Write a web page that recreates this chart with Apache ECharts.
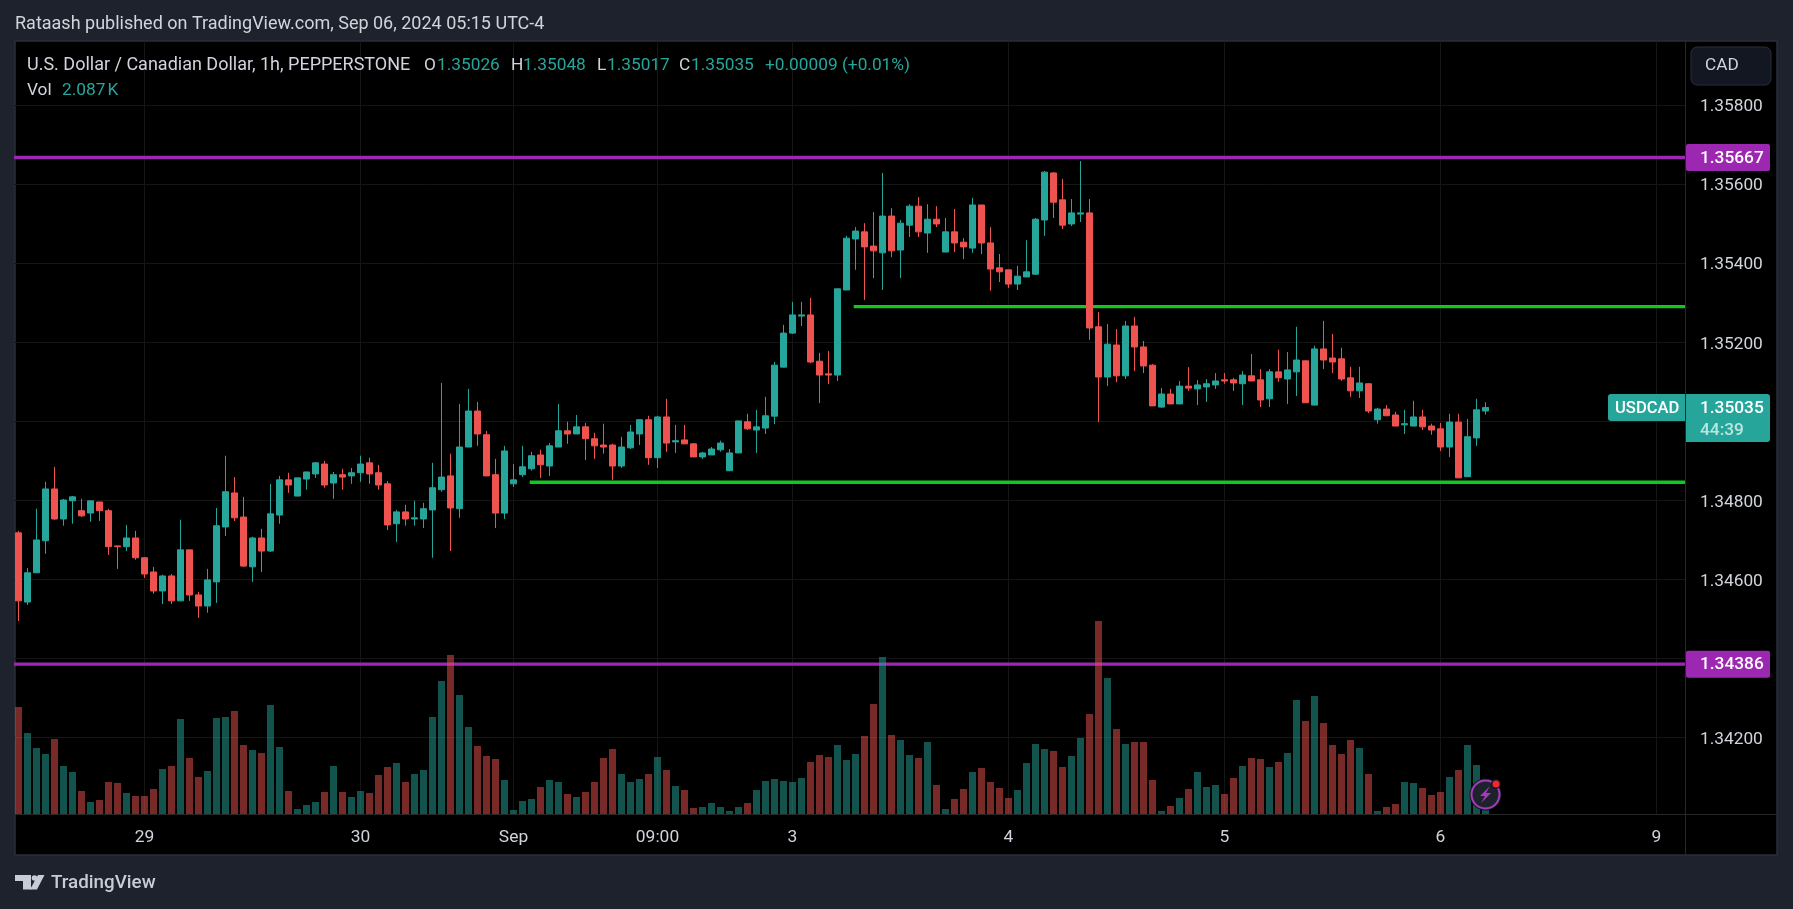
<!DOCTYPE html>
<html lang="en">
<head>
  <meta charset="UTF-8">
  <title>USDCAD 1h</title>
  <script src="https://cdn.jsdelivr.net/npm/echarts@6/dist/echarts.min.js"></script>
  <style>
    html, body { margin: 0; padding: 0; background: #1e222d; }
    #chart { width: 1793px; height: 909px; }
  </style>
</head>
<body>
  <div id="chart"></div>
  <script>
    // hourly candles (index 0 = leftmost bar)
    const opens = [
      1.34718,1.34543,1.34617,1.34698,1.34829,1.34753,1.34799,1.34774,1.34768,1.34796,
      1.34774,1.34685,1.34683,1.34705,1.34655,1.34619,1.34571,1.34609,1.34546,1.34675,
      1.34561,1.34533,1.34594,1.34733,1.34819,1.34758,1.34632,1.34705,1.34672,1.34763,
      1.34852,1.34811,1.34854,1.34867,1.34892,1.34844,1.34865,1.34862,1.34870,1.34895,
      1.34870,1.34842,1.34741,1.34771,1.34753,1.34753,1.34776,1.34827,1.34862,1.34779,
      1.34935,1.35026,1.34966,1.34865,1.34768,1.34842,1.34865,1.34880,1.34915,1.34887,
      1.34935,1.34976,1.34968,1.34986,1.34956,1.34940,1.34940,1.34887,1.34933,1.34968,
      1.35004,1.34908,1.35011,1.34948,1.34953,1.34943,1.34910,1.34915,1.34928,1.34875,
      1.34920,1.34999,1.34978,1.34983,1.35013,1.35137,1.35223,1.35266,1.35269,1.35152,
      1.35120,1.35117,1.35332,1.35461,1.35479,1.35443,1.35426,1.35519,1.35433,1.35496,
      1.35544,1.35476,1.35511,1.35428,1.35479,1.35453,1.35438,1.35547,1.35451,1.35388,
      1.35383,1.35347,1.35365,1.35372,1.35509,1.35628,1.35560,1.35499,1.35524,1.35527,
      1.35239,1.35112,1.35193,1.35115,1.35241,1.35188,1.35142,1.35036,1.35069,1.35044,
      1.35089,1.35082,1.35087,1.35092,1.35105,1.35105,1.35095,1.35115,1.35105,1.35057,
      1.35125,1.35107,1.35125,1.35153,1.35041,1.35183,1.35160,1.35158,1.35110,1.35077,
      1.35095,1.35004,1.35031,1.35016,1.34991,1.34988,1.35011,1.34988,1.34981,1.34935,
      1.34998,1.34860,1.34958,1.35026
    ];
    const closes = [
      1.34546,1.34617,1.34700,1.34829,1.34753,1.34801,1.34809,1.34761,1.34799,1.34774,
      1.34683,1.34683,1.34705,1.34655,1.34614,1.34571,1.34609,1.34546,1.34675,1.34561,
      1.34533,1.34599,1.34736,1.34822,1.34756,1.34634,1.34705,1.34672,1.34766,1.34852,
      1.34839,1.34857,1.34872,1.34895,1.34839,1.34865,1.34859,1.34870,1.34892,1.34867,
      1.34839,1.34738,1.34771,1.34753,1.34756,1.34779,1.34832,1.34859,1.34781,1.34935,
      1.35026,1.34968,1.34862,1.34768,1.34925,1.34852,1.34885,1.34913,1.34890,1.34938,
      1.34976,1.34968,1.34986,1.34956,1.34938,1.34935,1.34887,1.34935,1.34973,1.35004,
      1.34908,1.35011,1.34945,1.34951,1.34943,1.34910,1.34920,1.34930,1.34945,1.34920,
      1.35001,1.34981,1.34986,1.35014,1.35142,1.35223,1.35269,1.35269,1.35150,1.35117,
      1.35117,1.35335,1.35463,1.35481,1.35441,1.35431,1.35519,1.35431,1.35501,1.35544,
      1.35479,1.35511,1.35499,1.35479,1.35451,1.35441,1.35547,1.35451,1.35385,1.35378,
      1.35347,1.35367,1.35378,1.35511,1.35630,1.35554,1.35496,1.35527,1.35527,1.35236,
      1.35112,1.35195,1.35115,1.35241,1.35188,1.35140,1.35039,1.35069,1.35044,1.35089,
      1.35084,1.35092,1.35095,1.35102,1.35102,1.35097,1.35117,1.35102,1.35054,1.35125,
      1.35110,1.35130,1.35155,1.35047,1.35183,1.35155,1.35150,1.35107,1.35077,1.35097,
      1.35026,1.35031,1.35014,1.34988,1.34994,1.35011,1.34986,1.34978,1.34935,1.34998,
      1.34857,1.34961,1.35029,1.35035
    ];
    const lows = [
      1.34495,1.34536,1.34617,1.34665,1.34751,1.34736,1.34741,1.34758,1.34746,1.34748,
      1.34662,1.34627,1.34672,1.34650,1.34604,1.34564,1.34538,1.34538,1.34546,1.34546,
      1.34503,1.34516,1.34541,1.34710,1.34748,1.34632,1.34594,1.34619,1.34670,1.34741,
      1.34819,1.34811,1.34827,1.34857,1.34832,1.34804,1.34827,1.34842,1.34847,1.34842,
      1.34827,1.34725,1.34695,1.34736,1.34736,1.34730,1.34655,1.34822,1.34672,1.34756,
      1.34935,1.34938,1.34862,1.34730,1.34753,1.34834,1.34859,1.34875,1.34857,1.34862,
      1.34935,1.34943,1.34968,1.34902,1.34905,1.34918,1.34852,1.34882,1.34930,1.34940,
      1.34890,1.34882,1.34923,1.34920,1.34943,1.34910,1.34905,1.34915,1.34923,1.34875,
      1.34920,1.34978,1.34920,1.34968,1.34993,1.35137,1.35221,1.35241,1.35147,1.35046,
      1.35094,1.35102,1.35332,1.35383,1.35307,1.35362,1.35332,1.35415,1.35362,1.35466,
      1.35466,1.35426,1.35491,1.35428,1.35428,1.35410,1.35426,1.35423,1.35330,1.35352,
      1.35337,1.35332,1.35365,1.35370,1.35469,1.35514,1.35486,1.35494,1.35504,1.35206,
      1.34998,1.35089,1.35099,1.35107,1.35127,1.35122,1.35039,1.35034,1.35044,1.35044,
      1.35077,1.35041,1.35049,1.35082,1.35095,1.35077,1.35041,1.35102,1.35036,1.35036,
      1.35100,1.35044,1.35064,1.35047,1.35041,1.35132,1.35122,1.35102,1.35062,1.35059,
      1.35021,1.34994,1.35014,1.34988,1.34968,1.34988,1.34978,1.34966,1.34925,1.34910,
      1.34857,1.34860,1.34938,1.35017
    ];
    const highs = [
      1.34723,1.34629,1.34779,1.34847,1.34885,1.34804,1.34811,1.34804,1.34799,1.34796,
      1.34779,1.34685,1.34738,1.34723,1.34657,1.34632,1.34612,1.34614,1.34751,1.34675,
      1.34569,1.34627,1.34781,1.34913,1.34859,1.34809,1.34708,1.34728,1.34842,1.34862,
      1.34870,1.34857,1.34872,1.34897,1.34900,1.34872,1.34880,1.34882,1.34913,1.34908,
      1.34890,1.34849,1.34776,1.34789,1.34799,1.34794,1.34895,1.35097,1.34918,1.35044,
      1.35082,1.35049,1.34976,1.34905,1.34938,1.34892,1.34938,1.34923,1.34928,1.34945,
      1.35044,1.34999,1.35016,1.34996,1.34971,1.34994,1.34943,1.34961,1.34991,1.35004,
      1.35014,1.35014,1.35057,1.34991,1.34991,1.34945,1.34923,1.34935,1.34951,1.34930,
      1.35001,1.35019,1.35029,1.35062,1.35150,1.35244,1.35302,1.35302,1.35312,1.35173,
      1.35178,1.35335,1.35469,1.35491,1.35501,1.35529,1.35628,1.35539,1.35509,1.35549,
      1.35567,1.35549,1.35544,1.35514,1.35537,1.35463,1.35565,1.35547,1.35491,1.35423,
      1.35383,1.35393,1.35458,1.35514,1.35633,1.35630,1.35613,1.35562,1.35658,1.35562,
      1.35276,1.35246,1.35233,1.35254,1.35264,1.35203,1.35145,1.35084,1.35082,1.35102,
      1.35137,1.35104,1.35107,1.35122,1.35122,1.35110,1.35127,1.35170,1.35132,1.35132,
      1.35181,1.35175,1.35239,1.35153,1.35191,1.35254,1.35221,1.35186,1.35138,1.35138,
      1.35097,1.35034,1.35041,1.35024,1.35029,1.35052,1.35029,1.34994,1.34996,1.35019,
      1.35019,1.35006,1.35057,1.35048
    ];
    // volume in thousands
    const volumes = [
      53.5,40.5,33,30,37.5,24,21,11.5,6,7,16,15.5,10.5,9,9,12.5,22.5,24,47.5,28,
      18.5,21.5,48,48.5,51.5,34.5,32,30.5,54.5,33.5,11.5,2.5,4.5,6,11,24,11,8.5,11.5,10.5,
      19.5,23.5,25.5,16,20,22,48.5,66.5,79.5,59.5,43.5,34,29,27.5,17,2,6.5,7.5,13.5,17,
      16,10,8.5,11,16,28,32.5,20,16,17.5,20,28.5,22,14,12,3,3.5,5.5,3.5,1.5,
      3.5,5.5,12,16.5,17.5,16.5,16,18,26,29.5,28.5,34.5,27,30,39,55,78.5,39.5,37,29.5,
      28,36,14.5,2.5,7.5,12.5,21,23,16,13,8,12,25.5,35,32.5,31.5,23.5,29,38,50,
      96.5,68,42.5,35,36,36,17,1.5,4,8,12.5,21,13.5,14.5,10,18,24,28,27.5,23.5,
      26,30.5,57,46.5,59,45.5,34.5,30,37,33,20,1.5,3.5,5,16,15.5,13,9.5,11,18.5,
      22,34.5,24.5,2.087
    ];
    const dateTicks = [14, 38, 55, 71, 86, 110, 134, 158, 182];
    const dateLabels = ['29', '30', 'Sep', '09:00', '3', '4', '5', '6', '9'];
    const priceTicks = [1.342, 1.344, 1.346, 1.348, 1.35, 1.352, 1.354, 1.356, 1.358];
    const purpleLevels = [1.35667, 1.34386];
    const greenLevels = [1.3529, 1.34846];
    const greenStarts = [92.8, 56.8];
    const lastPrice = 1.35035;

    const GRID = { left: 14, top: 41, width: 1671, height: 773 };
    const xMin = -0.5, xMax = 185.1667;
    const priceMin = 1.340071, priceMax = 1.359616;
    const volMax = 386.5;
    const FONT = 'Roboto';
    const UP = '#26a69a', DOWN = '#ef5350', PURPLE = '#9c27b0', GREEN = '#12c71f';

    const candleData = opens.map((o, i) => [i, o, closes[i], lows[i], highs[i]]);
    const volumeData = volumes.map((v, i) => [i, v]);

    const levelSeries = [];
    purpleLevels.forEach(p => levelSeries.push({ p, from: xMin, color: PURPLE }));
    greenLevels.forEach((p, i) => levelSeries.push({ p, from: greenStarts[i], color: GREEN }));

    const chart = echarts.init(document.getElementById('chart'), null, { renderer: 'canvas' });

    chart.setOption({
      animation: false,
      backgroundColor: '#1e222d',
      grid: Object.assign({ containLabel: false }, GRID),
      xAxis: {
        type: 'value',
        min: xMin,
        max: xMax,
        axisLine: { show: false },
        axisTick: { show: false, customValues: dateTicks },
        splitLine: { show: true, lineStyle: { color: '#151515', width: 1 } },
        axisLabel: {
          customValues: dateTicks,
          formatter: v => dateLabels[dateTicks.indexOf(v)],
          color: '#d1d4dc', fontFamily: FONT, fontSize: 17.4, margin: 15
        }
      },
      yAxis: [
        {
          type: 'value',
          position: 'right',
          min: priceMin,
          max: priceMax,
          axisLine: { show: false },
          axisTick: { show: false, customValues: priceTicks },
          splitLine: { show: true, lineStyle: { color: '#151515', width: 1 } },
          axisLabel: {
            customValues: priceTicks,
            formatter: v => v.toFixed(5),
            // top + small lineHeight moves the text 2px down, it sits on the grid line in the original
            verticalAlign: 'top',
            lineHeight: 4,
            color: '#d1d4dc', fontFamily: FONT, fontSize: 17.3, margin: 15
          }
        },
        { type: 'value', min: 0, max: volMax, show: false, splitLine: { show: false } }
      ],
      series: levelSeries.map(l => ({
        type: 'line',
        z: 1,
        symbol: 'none',
        silent: true,
        lineStyle: { color: l.color, width: 3.4 },
        data: [[l.from, l.p], [xMax, l.p]]
      })).concat([
        {
          type: 'bar',
          z: 2,
          yAxisIndex: 1,
          barWidth: 7,
          data: volumeData,
          itemStyle: {
            color: params => closes[params.dataIndex] >= opens[params.dataIndex]
              ? 'rgba(38,166,154,0.5)' : 'rgba(239,83,80,0.5)'
          }
        },
        {
          type: 'candlestick',
          z: 3,
          barWidth: 6,
          data: candleData,
          itemStyle: { color: UP, color0: DOWN, borderColor: UP, borderColor0: DOWN, borderWidth: 1 }
        }
      ])
    });

    function txt(x, y, text, color, size, weight) {
      return {
        type: 'text', z: 30, x, y,
        style: {
          text, fill: color, font: `${weight || 400} ${size}px ${FONT}`,
          verticalAlign: 'middle'
        }
      };
    }
    function box(x, y, w, h, fill, r, stroke) {
      return {
        type: 'rect', z: 25,
        shape: { x, y, width: w, height: h, r: r || 0 },
        style: { fill, stroke: stroke || null }
      };
    }
    function rule(x1, y1, x2, y2) {
      return {
        type: 'line', z: 20,
        shape: { x1, y1, x2, y2 },
        style: { stroke: '#272727', lineWidth: 1 }
      };
    }

    const yOf = p => chart.convertToPixel({ yAxisIndex: 0 }, p);
    const GREY = '#d1d4dc', TV = '#c9ccd6';
    const LETTERS = 18, DIGITS = 17.3;

    const elements = [
      // black chart pane
      { type: 'rect', z: -10, shape: { x: 15, y: 41, width: 1762, height: 814 }, style: { fill: '#000', stroke: '#2a2e39', lineWidth: 1.5 } },
      rule(1685.5, 41, 1685.5, 855),
      rule(15, 814.5, 1777, 814.5),

      txt(15, 24, 'Rataash published on TradingView.com, Sep 06, 2024 05:15 UTC-4', GREY, LETTERS),

      txt(27, 65.5, 'U.S. Dollar / Canadian Dollar, 1h, PEPPERSTONE', GREY, LETTERS),
      txt(424, 65.5, 'O', GREY, DIGITS),
      txt(437, 65.5, '1.35026', UP, DIGITS),
      txt(511, 65.5, 'H', GREY, DIGITS),
      txt(523, 65.5, '1.35048', UP, DIGITS),
      txt(597, 65.5, 'L', GREY, DIGITS),
      txt(607, 65.5, '1.35017', UP, DIGITS),
      txt(679, 65.5, 'C', GREY, DIGITS),
      txt(691, 65.5, '1.35035', UP, DIGITS),
      txt(765, 65.5, '+0.00009 (+0.01%)', UP, DIGITS),
      txt(27, 90.5, 'Vol', GREY, DIGITS),
      txt(62, 90.5, '2.087\u202fK', UP, DIGITS),

      // currency button
      box(1691, 47, 80, 38, '#131722', 6, '#2a2e39'),
      txt(1705, 66, 'CAD', GREY, 17.2),

      // level tags
      box(1686, yOf(purpleLevels[0]) - 13.5, 84, 27, PURPLE, 2),
      txt(1700, yOf(purpleLevels[0]) + 1, purpleLevels[0].toFixed(5), '#fff', DIGITS, 500),
      box(1686, yOf(purpleLevels[1]) - 13.5, 84, 27, PURPLE, 2),
      txt(1700, yOf(purpleLevels[1]) + 1, purpleLevels[1].toFixed(5), '#fff', DIGITS, 500),

      // last price tag
      box(1608, yOf(lastPrice) - 13.5, 77, 27, UP, [3, 0, 0, 3]),
      txt(1615, yOf(lastPrice) + 1.5, 'USDCAD', '#fff', 16.6, 500),
      box(1686, yOf(lastPrice) - 13.5, 84, 48, UP, [0, 3, 3, 0]),
      txt(1700, yOf(lastPrice) + 1.5, lastPrice.toFixed(5), '#fff', DIGITS, 500),
      txt(1700, yOf(lastPrice) + 23.5, '44:39', 'rgba(255,255,255,0.7)', DIGITS, 500),

      // lightning badge
      { type: 'circle', z: 26, shape: { cx: 1485.5, cy: 794.5, r: 15 }, style: { fill: '#1e222d', stroke: '#131722', lineWidth: 2 } },
      { type: 'circle', z: 26, shape: { cx: 1485.5, cy: 794.5, r: 14 }, style: { fill: '#1e222d', stroke: '#a43cbc', lineWidth: 2 } },
      { type: 'polygon', z: 27, shape: { points: [[1490, 786], [1480, 796], [1485, 796], [1481, 803], [1491, 793], [1486, 793]] }, style: { fill: '#a43cbc' } },
      { type: 'circle', z: 27, shape: { cx: 1496, cy: 784, r: 5 }, style: { fill: '#131722' } },
      { type: 'circle', z: 28, shape: { cx: 1496, cy: 784, r: 3.5 }, style: { fill: '#f7262e' } },

      // TradingView mark
      { type: 'polygon', z: 27, shape: { points: [[15, 875], [31, 875], [31, 889.5], [23, 889.5], [23, 881], [15, 881]] }, style: { fill: TV } },
      { type: 'circle', z: 27, shape: { cx: 34.5, cy: 878, r: 2.8 }, style: { fill: TV } },
      { type: 'polygon', z: 27, shape: { points: [[38, 875], [44.5, 875], [37, 889.5], [30, 889.5]] }, style: { fill: TV } },
      txt(51, 883, 'TradingView', TV, 18.8, 500)
    ];

    chart.setOption({ graphic: { elements } });
  </script>
</body>
</html>
